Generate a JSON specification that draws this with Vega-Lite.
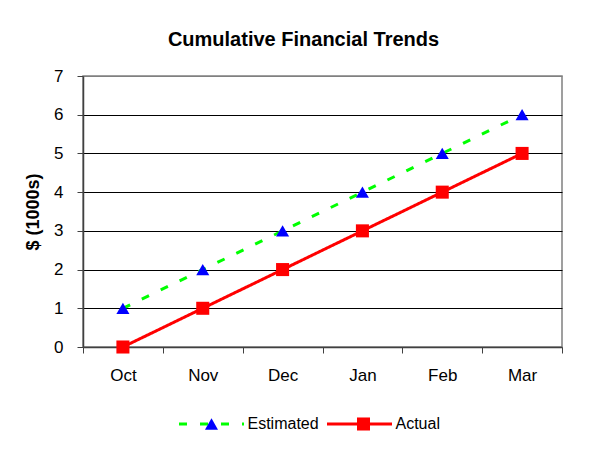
{
  "$schema": "https://vega.github.io/schema/vega-lite/v6.json",
  "width": 479,
  "height": 271,
  "autosize": "none",
  "padding": {"left": 83, "top": 76, "right": 51, "bottom": 119},
  "background": "white",
  "config": {
    "font": "Liberation Sans",
    "view": {"stroke": "#808080", "strokeWidth": 1.5}
  },
  "title": {
    "text": "Cumulative Financial Trends",
    "font": "Liberation Sans",
    "fontSize": 20,
    "fontWeight": "bold",
    "color": "black",
    "anchor": "middle",
    "frame": "group",
    "baseline": "alphabetic",
    "offset": 1,
    "dx": -19
  },
  "data": {
    "values": [
      {"month": "Oct", "series": "Estimated", "marker": "Estimated", "value": 1},
      {"month": "Nov", "series": "Estimated", "marker": "Estimated", "value": 2},
      {"month": "Dec", "series": "Estimated", "marker": "Estimated", "value": 3},
      {"month": "Jan", "series": "Estimated", "marker": "Estimated", "value": 4},
      {"month": "Feb", "series": "Estimated", "marker": "Estimated", "value": 5},
      {"month": "Mar", "series": "Estimated", "marker": "Estimated", "value": 6},
      {"month": "Oct", "series": "Actual", "marker": "Actual", "value": 0},
      {"month": "Nov", "series": "Actual", "marker": "Actual", "value": 1},
      {"month": "Dec", "series": "Actual", "marker": "Actual", "value": 2},
      {"month": "Jan", "series": "Actual", "marker": "Actual", "value": 3},
      {"month": "Feb", "series": "Actual", "marker": "Actual", "value": 4},
      {"month": "Mar", "series": "Actual", "marker": "Actual", "value": 5}
    ]
  },
  "encoding": {
    "x": {
      "field": "month",
      "type": "ordinal",
      "sort": ["Oct", "Nov", "Dec", "Jan", "Feb", "Mar"],
      "scale": {"type": "band", "paddingInner": 0, "paddingOuter": 0},
      "axis": {
        "title": null,
        "labelAngle": 0,
        "labelFontSize": 17,
        "labelColor": "black",
        "labelPadding": 14,
        "tickBand": "extent",
        "tickSize": 6,
        "tickColor": "#404040",
        "domainColor": "#404040",
        "domainWidth": 1.5,
        "grid": false
      }
    },
    "y": {
      "field": "value",
      "type": "quantitative",
      "scale": {"domain": [0, 7], "nice": false},
      "axis": {
        "title": "$ (1000s)",
        "titleFontSize": 18,
        "titleFontWeight": "bold",
        "titleColor": "black",
        "titlePadding": 11,
        "values": [0, 1, 2, 3, 4, 5, 6, 7],
        "labelFontSize": 17,
        "labelColor": "black",
        "labelPadding": 14,
        "tickSize": 6,
        "tickColor": "#404040",
        "domainColor": "#404040",
        "domainWidth": 1.5,
        "grid": true,
        "gridColor": {"condition": {"test": "datum.value == 0 || datum.value == 7", "value": "#808080"}, "value": "black"},
        "gridWidth": 1,
        "gridOpacity": 1
      }
    }
  },
  "layer": [
    {
      "mark": {"type": "line", "strokeWidth": 3},
      "encoding": {
        "stroke": {
          "field": "series",
          "type": "nominal",
          "scale": {"domain": ["Estimated", "Actual"], "range": ["#00FF00", "#FF0000"]},
          "legend": {
            "title": null,
            "orient": "none",
            "direction": "horizontal",
            "legendX": 94.5,
            "legendY": 314,
            "padding": 0,
            "symbolType": "stroke",
            "symbolSize": 4225,
            "symbolStrokeWidth": 3,
            "labelFontSize": 16,
            "labelColor": "black",
            "labelOffset": 2,
            "columnPadding": 1
          }
        },
        "strokeDash": {
          "field": "series",
          "type": "nominal",
          "scale": {"domain": ["Estimated", "Actual"], "range": [[8, 13], [1, 0]]},
          "legend": {
            "title": null,
            "orient": "none",
            "direction": "horizontal",
            "legendX": 94.5,
            "legendY": 314,
            "padding": 0,
            "symbolType": "stroke",
            "symbolSize": 4225,
            "symbolStrokeWidth": 3,
            "labelFontSize": 16,
            "labelColor": "black",
            "labelOffset": 2,
            "columnPadding": 1
          }
        }
      }
    },
    {
      "mark": {"type": "point", "filled": true, "opacity": 1, "size": 170, "strokeWidth": 0},
      "encoding": {
        "fill": {
          "field": "marker",
          "type": "nominal",
          "sort": "descending",
          "scale": {"range": ["#0000FF", "#FF0000"]},
          "legend": {
            "title": null,
            "orient": "none",
            "direction": "horizontal",
            "legendX": 94.5,
            "legendY": 340,
            "padding": 0,
            "symbolSize": 170,
            "symbolStrokeWidth": 0,
            "symbolOffset": 26,
            "labelFontSize": 16,
            "labelExpr": "''",
            "labelOffset": 28,
            "columnPadding": 82
          }
        },
        "shape": {
          "field": "marker",
          "type": "nominal",
          "sort": "descending",
          "scale": {"range": ["triangle-up", "square"]},
          "legend": {
            "title": null,
            "orient": "none",
            "direction": "horizontal",
            "legendX": 94.5,
            "legendY": 340,
            "padding": 0,
            "symbolSize": 170,
            "symbolStrokeWidth": 0,
            "symbolOffset": 26,
            "labelFontSize": 16,
            "labelExpr": "''",
            "labelOffset": 28,
            "columnPadding": 82
          }
        }
      }
    }
  ]
}
